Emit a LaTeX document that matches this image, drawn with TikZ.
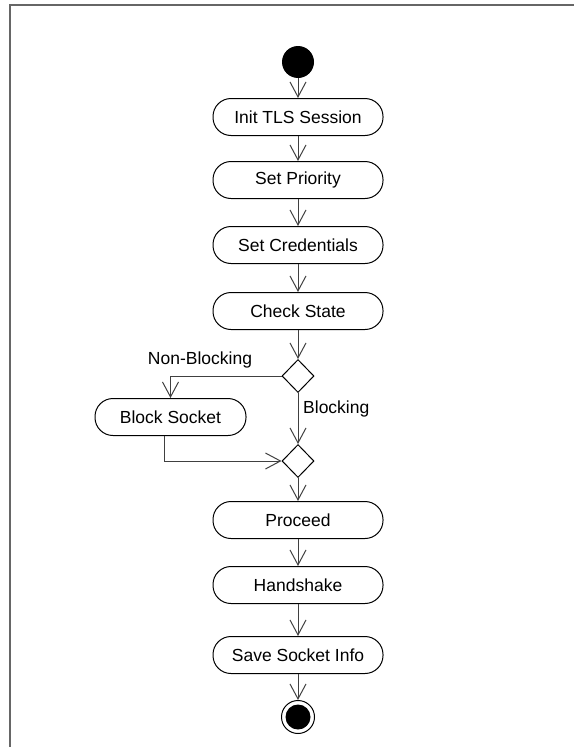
\documentclass[tikz,border=0pt]{standalone}
\usepackage{fontspec}
\setmainfont{Liberation Sans}
\usetikzlibrary{shapes.geometric,arrows.meta}
\begin{document}
\begin{tikzpicture}[x=1pt,y=-1pt,
  font=\fontsize{17.5}{20}\selectfont,
  act/.style={draw=black, line width=1pt, rectangle, rounded corners=18pt,
    minimum width=170pt, minimum height=37pt, inner sep=0pt, fill=white},
  dec/.style={draw=black, line width=1pt, diamond, minimum width=32pt,
    minimum height=33pt, inner sep=0pt, fill=white},
  flow/.style={draw=black!75, line width=1pt,
    -{Straight Barb[length=15pt,width=16pt,line width=1pt]}},
  lbl/.style={inner sep=0pt, text=black}]
\useasboundingbox (0,0) rectangle (574,747);
\draw[black!60, line width=1.6pt] (10,747) -- (10,5) -- (574,5);
\node[circle, fill=black, minimum size=32pt, inner sep=0pt] (start) at (298,62) {};
\node[act] (init) at (298,117) {Init TLS Session};
\node[act] (prio) at (298,180) {Set Priority};
\node[act] (cred) at (298,245) {Set Credentials};
\node[act] (check) at (298,311) {Check State};
\node[dec] (d1) at (298,376) {};
\node[act, minimum width=151pt] (bs) at (170.5,417) {Block Socket};
\node[dec] (m) at (298,461) {};
\node[act] (proc) at (298,520) {Proceed};
\node[act] (hand) at (298,585) {Handshake};
\node[act] (save) at (298,655) {Save Socket Info};
\node[circle, draw=black, line width=1pt, minimum size=33pt, inner sep=0pt] (end) at (298,717) {};
\node[circle, fill=black, minimum size=25pt, inner sep=0pt] (endin) at (end.center) {};
\draw[flow] (start) -- (init);
\draw[flow] (init) -- (prio);
\draw[flow] (prio) -- (cred);
\draw[flow] (cred) -- (check);
\draw[flow] (check) -- (d1);
\draw[flow] (d1.west) -| (bs.north);
\draw[flow] (d1.south) -- (m.north);
\draw[flow] ([xshift=-6.5pt]bs.south) |- (m.west);
\draw[flow] (m.south) -- (proc);
\draw[flow] (proc) -- (hand);
\draw[flow] (hand) -- (save);
\draw[flow] (save) -- (end);
\node[lbl] (nb) at (200,360) {Non-Blocking};
\node[lbl, anchor=west] (bl) at (303,409) {Blocking};
\end{tikzpicture}
\end{document}
